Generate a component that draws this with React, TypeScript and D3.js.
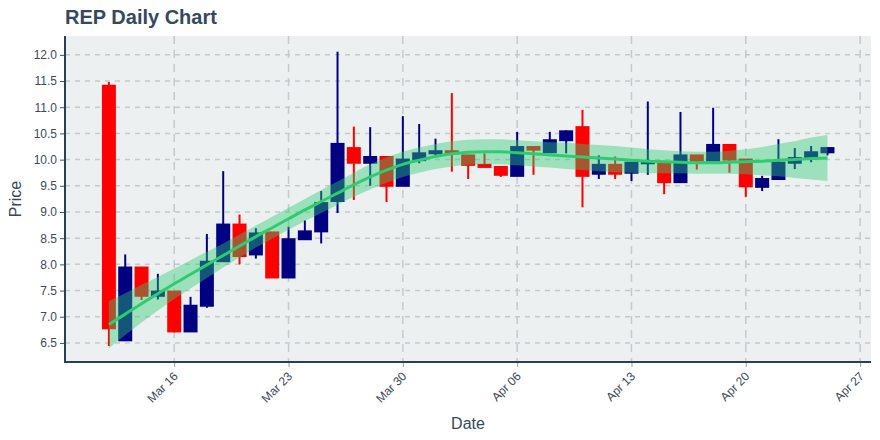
import React, { useEffect, useRef } from 'react';
import * as d3 from 'd3';

// daily candles, Mar 12 - Apr 25
const dates = [
  '2020-03-12', '2020-03-13', '2020-03-14', '2020-03-15', '2020-03-16', '2020-03-17', '2020-03-18',
  '2020-03-19', '2020-03-20', '2020-03-21', '2020-03-22', '2020-03-23', '2020-03-24', '2020-03-25',
  '2020-03-26', '2020-03-27', '2020-03-28', '2020-03-29', '2020-03-30', '2020-03-31', '2020-04-01',
  '2020-04-02', '2020-04-03', '2020-04-04', '2020-04-05', '2020-04-06', '2020-04-07', '2020-04-08',
  '2020-04-09', '2020-04-10', '2020-04-11', '2020-04-12', '2020-04-13', '2020-04-14', '2020-04-15',
  '2020-04-16', '2020-04-17', '2020-04-18', '2020-04-19', '2020-04-20', '2020-04-21', '2020-04-22',
  '2020-04-23', '2020-04-24', '2020-04-25',
];
const opens = [
  11.41, 6.55, 7.94, 7.40, 7.48, 6.72, 7.21, 8.06, 8.76, 8.19, 8.61, 7.75, 8.48, 8.63, 9.21,
  10.22, 9.94, 10.05, 9.50, 9.99, 10.12, 10.16, 10.08, 9.90, 9.86, 9.69, 10.24, 10.14, 10.37, 10.62,
  9.73, 9.90, 9.75, 9.93, 9.94, 9.57, 10.08, 9.98, 10.28, 10.00, 9.48, 9.63, 9.94, 10.03, 10.14,
];
const highs = [
  11.48, 8.19, 7.94, 7.82, 7.48, 7.38, 8.58, 9.78, 8.95, 8.69, 8.61, 8.72, 8.84, 9.40, 12.06,
  10.63, 10.62, 10.05, 10.83, 10.68, 10.40, 11.27, 10.08, 10.12, 9.86, 10.53, 10.24, 10.53, 10.56, 10.95,
  10.08, 10.06, 9.94, 11.11, 9.94, 10.91, 10.08, 10.99, 10.28, 10.00, 9.69, 10.39, 10.22, 10.26, 10.24,
];
const lows = [
  6.44, 6.55, 7.32, 7.33, 6.70, 6.72, 7.17, 8.06, 8.00, 8.11, 7.74, 7.75, 8.48, 8.40, 8.98,
  9.23, 9.50, 9.19, 9.50, 9.93, 10.08, 9.77, 9.63, 9.86, 9.67, 9.69, 9.71, 10.14, 10.12, 9.09,
  9.63, 9.63, 9.59, 9.71, 9.34, 9.57, 9.81, 9.98, 9.75, 9.29, 9.40, 9.63, 9.82, 9.95, 10.08,
];
const closes = [
  6.78, 7.94, 7.40, 7.48, 6.72, 7.21, 8.05, 8.76, 8.16, 8.59, 7.75, 8.48, 8.63, 9.17, 10.30,
  9.94, 10.05, 9.50, 10.00, 10.12, 10.16, 10.12, 9.90, 9.86, 9.71, 10.24, 10.19, 10.37, 10.54, 9.69,
  9.90, 9.73, 9.94, 9.95, 9.57, 10.08, 9.98, 10.28, 10.00, 9.49, 9.63, 9.94, 10.03, 10.14, 10.22,
];

// smoothed trend with its confidence band
const trend = [
  6.85, 7.05, 7.25, 7.44, 7.63, 7.81, 7.99, 8.17, 8.35, 8.53, 8.70, 8.87, 9.04, 9.20, 9.36,
  9.52, 9.67, 9.80, 9.91, 9.99, 10.06, 10.11, 10.14, 10.15, 10.15, 10.13, 10.11, 10.09, 10.07, 10.05,
  10.03, 10.01, 9.99, 9.97, 9.96, 9.95, 9.94, 9.94, 9.95, 9.96, 9.97, 9.99, 10.00, 10.02, 10.03,
];
const bandUpper = [
  7.30, 7.45, 7.61, 7.76, 7.92, 8.08, 8.24, 8.40, 8.57, 8.74, 8.91, 9.08, 9.25, 9.42, 9.58,
  9.75, 9.91, 10.04, 10.15, 10.23, 10.30, 10.35, 10.38, 10.39, 10.39, 10.37, 10.35, 10.33, 10.32, 10.30,
  10.28, 10.26, 10.23, 10.20, 10.18, 10.16, 10.15, 10.15, 10.17, 10.20, 10.24, 10.30, 10.35, 10.42, 10.47,
];
const bandLower = [
  6.40, 6.65, 6.89, 7.12, 7.34, 7.54, 7.74, 7.94, 8.13, 8.32, 8.49, 8.66, 8.83, 8.98, 9.14,
  9.29, 9.43, 9.56, 9.67, 9.75, 9.82, 9.87, 9.90, 9.91, 9.91, 9.89, 9.87, 9.85, 9.82, 9.80,
  9.78, 9.76, 9.75, 9.74, 9.74, 9.74, 9.73, 9.73, 9.73, 9.72, 9.70, 9.68, 9.65, 9.62, 9.59,
];

const yTicks = [6.5, 7.0, 7.5, 8.0, 8.5, 9.0, 9.5, 10.0, 10.5, 11.0, 11.5, 12.0];
const xTicks = ['2020-03-16', '2020-03-23', '2020-03-30', '2020-04-06', '2020-04-13', '2020-04-20', '2020-04-27'];

const WIDTH = 880;
const HEIGHT = 440;
const FONT = '"Liberation Sans", Arial, sans-serif';

function CandleChart() {
  const ref = useRef<SVGSVGElement | null>(null);

  useEffect(() => {
    const svg = d3.select(ref.current);
    svg.selectAll('*').remove();

    const parse = d3.utcParse('%Y-%m-%d');
    const rows = dates.map((d, i) => ({
      date: parse(d) as Date,
      open: opens[i], high: highs[i], low: lows[i], close: closes[i],
      trend: trend[i], up: bandUpper[i], lo: bandLower[i],
    }));

    const left = 65, right = 871, top = 36, bottom = 362;

    const x = d3.scaleUtc()
      .domain([new Date(Date.UTC(2020, 2, 9, 7, 30)), new Date(Date.UTC(2020, 3, 27, 16, 0))])
      .range([left, right]);
    const y = d3.scaleLinear().domain([6.136, 12.36]).range([bottom, top]);

    // plot background
    svg.append('rect')
      .attr('x', left).attr('y', top)
      .attr('width', right - left).attr('height', bottom - top)
      .attr('fill', '#ecf0f1');

    // grid
    const grid = svg.append('g');
    grid.selectAll('line.h')
      .data(yTicks)
      .enter().append('line')
      .attr('x1', left).attr('x2', right)
      .attr('y1', d => y(d)).attr('y2', d => y(d))
      .attr('stroke', '#c6c9cc').attr('stroke-width', 1.5)
      .attr('stroke-dasharray', '5,5');
    grid.selectAll('line.v')
      .data(xTicks.map(t => parse(t) as Date))
      .enter().append('line')
      .attr('x1', d => x(d)).attr('x2', d => x(d))
      .attr('y1', top).attr('y2', bottom)
      .attr('stroke', '#c6c9cc').attr('stroke-width', 1.5)
      .attr('stroke-dasharray', '8,6');

    // candles
    const red = '#ff0000', blue = '#000080';
    const c = svg.append('g').selectAll('g')
      .data(rows)
      .enter().append('g');
    c.append('line')
      .attr('x1', d => x(d.date)).attr('x2', d => x(d.date))
      .attr('y1', d => y(d.high)).attr('y2', d => y(d.low))
      .attr('stroke', d => (d.close >= d.open ? blue : red))
      .attr('stroke-width', 2);
    c.append('rect')
      .attr('x', d => x(d.date) - 6)
      .attr('width', 12)
      .attr('y', d => y(Math.max(d.open, d.close)))
      .attr('height', d => Math.abs(y(d.open) - y(d.close)))
      .attr('fill', d => (d.close >= d.open ? blue : red))
      .attr('stroke', d => (d.close >= d.open ? blue : red))
      .attr('stroke-width', 2);

    // trend band + line
    const area = d3.area<any>()
      .x(d => x(d.date))
      .y0(d => y(d.lo))
      .y1(d => y(d.up))
      .curve(d3.curveMonotoneX);
    svg.append('path')
      .datum(rows)
      .attr('d', area)
      .attr('fill', 'rgba(46,204,113,0.42)');

    const line = d3.line<any>()
      .x(d => x(d.date))
      .y(d => y(d.trend))
      .curve(d3.curveMonotoneX);
    svg.append('path')
      .datum(rows)
      .attr('d', line)
      .attr('fill', 'none')
      .attr('stroke', '#2ecc71')
      .attr('stroke-width', 3);

    // axes
    const axisColor = '#2c3e50';
    const yAxis = svg.append('g')
      .attr('transform', `translate(${left},0)`)
      .call(d3.axisLeft(y).tickValues(yTicks).tickFormat(d3.format('.1f')).tickSize(5).tickPadding(3));
    yAxis.select('.domain').remove();
    yAxis.selectAll('line').attr('stroke', '#44505c');
    yAxis.selectAll('text')
      .attr('fill', '#3c4a58')
      .style('font-family', FONT)
      .style('font-size', '12px');

    const xAxis = svg.append('g')
      .attr('transform', `translate(0,${bottom})`)
      .call(d3.axisBottom(x).tickValues(xTicks.map(t => parse(t) as Date))
        .tickFormat(d => d3.utcFormat('%b %d')(d as Date)).tickSize(5).tickPadding(3));
    xAxis.select('.domain').remove();
    xAxis.selectAll('line').attr('stroke', '#9aa0a6');
    xAxis.selectAll('text')
      .attr('fill', '#3c4a58')
      .attr('text-anchor', 'end')
      .attr('dy', null)
      .attr('y', null)
      .attr('transform', 'translate(4,15) rotate(-45)')
      .style('font-family', FONT)
      .style('font-size', '12px');

    svg.append('line')
      .attr('x1', left).attr('x2', left)
      .attr('y1', top).attr('y2', bottom + 1)
      .attr('stroke', axisColor).attr('stroke-width', 2);
    svg.append('line')
      .attr('x1', left - 1).attr('x2', right)
      .attr('y1', bottom).attr('y2', bottom)
      .attr('stroke', axisColor).attr('stroke-width', 2);

    // titles
    svg.append('text')
      .attr('x', 65).attr('y', 24)
      .attr('fill', '#34495e')
      .style('font-family', FONT)
      .style('font-size', '20px')
      .style('font-weight', 'bold')
      .text('REP Daily Chart');

    svg.append('text')
      .attr('transform', `translate(21,${(top + bottom) / 2}) rotate(-90)`)
      .attr('text-anchor', 'middle')
      .attr('fill', '#34495e')
      .style('font-family', FONT)
      .style('font-size', '16px')
      .text('Price');

    svg.append('text')
      .attr('x', (left + right) / 2).attr('y', 429)
      .attr('text-anchor', 'middle')
      .attr('fill', '#34495e')
      .style('font-family', FONT)
      .style('font-size', '16px')
      .text('Date');
  }, []);

  return (
    <svg ref={ref} width={WIDTH} height={HEIGHT}
      style={{ position: 'absolute', left: 0, top: 0, background: '#ffffff' }} />
  );
}

export default function App() {
  return <CandleChart />;
}
